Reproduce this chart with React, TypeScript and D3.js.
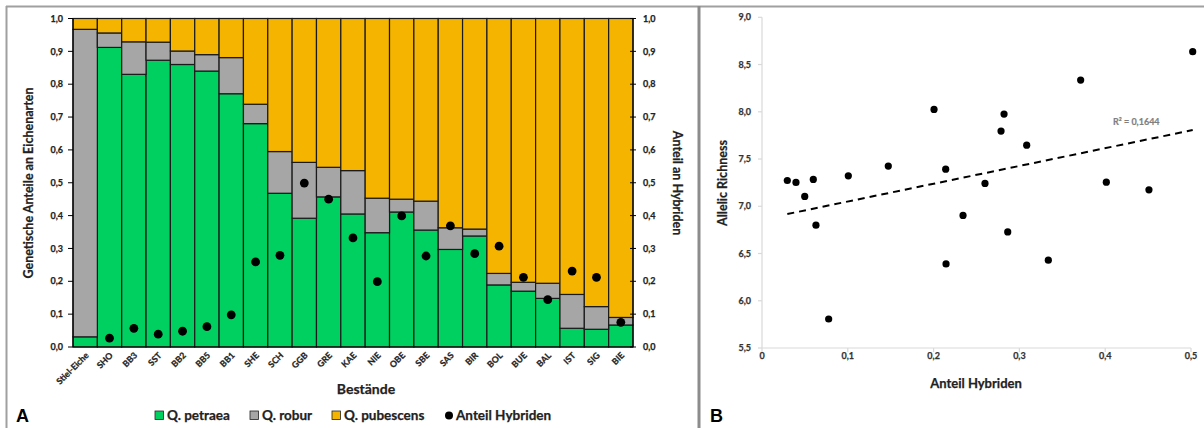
import React from "react";
import * as d3 from "d3";

const categories = ["Stiel-Eiche","SHO","BB3","SST","BB2","BB5","BB1","SHE","SCH","GGB","GRE","KAE","NIE","OBE","SBE","SAS","BIR","BOL","BUE","BAL","IST","SIG","BIE"];
const petraea = [0.031,0.912,0.830,0.873,0.860,0.840,0.771,0.680,0.468,0.392,0.457,0.405,0.348,0.411,0.356,0.297,0.338,0.189,0.170,0.148,0.057,0.054,0.067];
const robur = [0.936,0.044,0.099,0.055,0.041,0.050,0.110,0.059,0.127,0.170,0.090,0.132,0.105,0.039,0.088,0.066,0.021,0.035,0.027,0.046,0.103,0.069,0.023];
const hybrids: (number | null)[] = [null,0.027,0.057,0.039,0.048,0.062,0.098,0.259,0.279,0.499,0.450,0.332,0.199,0.399,0.277,0.369,0.284,0.307,0.212,0.144,0.231,0.212,0.075];
const leftTicks = [0,0.1,0.2,0.3,0.4,0.5,0.6,0.7,0.8,0.9,1.0];

const scatterX = [0.0295,0.0396,0.0498,0.0598,0.1006,0.1472,0.2005,0.0629,0.0777,0.2141,0.2599,0.2343,0.2786,0.2821,0.3085,0.3714,0.4013,0.4510,0.502,0.2145,0.2864,0.3337];
const scatterY = [7.273,7.252,7.104,7.284,7.322,7.425,8.025,6.80,5.807,7.393,7.242,6.903,7.796,7.976,7.647,8.336,7.255,7.174,8.636,6.39,6.729,6.429];
const xTicksB = [0,0.1,0.2,0.3,0.4,0.5];
const yTicksB = [5.5,6.0,6.5,7.0,7.5,8.0,8.5,9.0];
const r2Label = "R² = 0,1644";

const seriesNames = ["Q. petraea","Q. robur","Q. pubescens"];
const colors = ["#00D05F","#A6A6A6","#F5B400"];
const FONT = "Lato, 'Open Sans', sans-serif";
const W = 700;

const fmt1 = (v: number) => v.toFixed(1).replace(".", ",");
const fmtX = (v: number) => (v === 0 ? "0" : v.toFixed(1).replace(".", ","));

export default function App() {
  // Panel A
  const x = d3.scaleBand<string>().domain(categories).range([73, 633]).padding(0);
  const y = d3.scaleLinear().domain([0, 1]).range([347, 18.5]);
  const table = categories.map((c, i) => ({
    cat: c,
    p: petraea[i],
    r: robur[i],
    u: Math.max(0, 1 - petraea[i] - robur[i]),
  }));
  const stack = d3.stack<any>().keys(["p", "r", "u"])(table);

  // Panel B
  const xb = d3.scaleLinear().domain([0, 0.5]).range([762, 1191]);
  const yb = d3.scaleLinear().domain([5.5, 9.0]).range([348, 17.3]);
  const mx = d3.mean(scatterX)!;
  const my = d3.mean(scatterY)!;
  let sxy = 0, sxx = 0;
  scatterX.forEach((v, i) => { sxy += (v - mx) * (scatterY[i] - my); sxx += (v - mx) * (v - mx); });
  const slope = sxy / sxx;
  const icpt = my - slope * mx;
  const x0 = d3.min(scatterX)!;
  const x1 = d3.max(scatterX)!;

  const legendItems = [
    { label: seriesNames[0], color: colors[0], x: 155 },
    { label: seriesNames[1], color: colors[1], x: 250 },
    { label: seriesNames[2], color: colors[2], x: 332 },
  ];
  const heavy = { stroke: "#222", strokeWidth: 0.25 };

  return (
    <svg width={1204} height={428} style={{ position: "absolute", left: 0, top: 0, display: "block", background: "#fff" }} fontFamily={FONT}>
      <rect x={0} y={0} width={1204} height={428} fill="#fff" />
      {/* borders */}
      <line x1={6.5} y1={6} x2={6.5} y2={428} stroke="#a0a0a0" strokeWidth={2} />
      <line x1={6} y1={6.5} x2={1204} y2={6.5} stroke="#a0a0a0" strokeWidth={2} />
      <line x1={699} y1={6} x2={699} y2={428} stroke="#8c8c8c" strokeWidth={3} />

      {/* Panel A bars */}
      {stack.map((s, si) => (
        <g key={si}>
          {s.map((d, i) => (
            <rect key={i} x={x(categories[i])!} y={y(d[1])} width={x.bandwidth()} height={Math.max(0, y(d[0]) - y(d[1]))}
              fill={colors[si]} stroke="#1a1a1a" strokeWidth={1.2} />
          ))}
        </g>
      ))}
      {/* axes A */}
      <line x1={73} y1={18.5} x2={73} y2={347} stroke="#000" strokeWidth={1.2} />
      <line x1={73} y1={347} x2={633} y2={347} stroke="#000" strokeWidth={1.2} />
      <line x1={633} y1={18.5} x2={633} y2={347} stroke="#000" strokeWidth={1.2} />
      {leftTicks.map((t, i) => (
        <g key={i}>
          <line x1={68} x2={73} y1={y(t)} y2={y(t)} stroke="#000" strokeWidth={1} />
          <text x={63} y={y(t)} dy="0.35em" textAnchor="end" fontSize={9} fontWeight={W} fill="#222" {...heavy}>{fmt1(t)}</text>
          <line x1={630} x2={636} y1={y(t)} y2={y(t)} stroke="#000" strokeWidth={1} />
          <text x={643} y={y(t)} dy="0.35em" textAnchor="start" fontSize={9} fontWeight={W} fill="#222" {...heavy}>{fmt1(t)}</text>
        </g>
      ))}
      {/* hybrid dots */}
      {hybrids.map((h, i) => h == null ? null : (
        <circle key={i} cx={x(categories[i])! + x.bandwidth() / 2} cy={y(h)} r={4.4} fill="#000" />
      ))}
      {/* x labels */}
      {categories.map((c, i) => {
        const cx = x(c)! + x.bandwidth() / 2 + 4;
        const cy = 356;
        return (
          <text key={i} x={cx} y={cy} transform={`rotate(-45 ${cx} ${cy})`} textAnchor="end" fontSize={8.7} fontWeight={W} fill="#222" {...heavy}>{c}</text>
        );
      })}
      <text x={366} y={394} textAnchor="middle" fontSize={14} fontWeight={W} fill="#222" {...heavy}>Bestände</text>
      <text transform={`translate(33 183) rotate(-90)`} textAnchor="middle" fontSize={12.5} fontWeight={W} fill="#222" {...heavy}>Genetische Anteile an Eichenarten</text>
      <text transform={`translate(673 183) rotate(90)`} textAnchor="middle" fontSize={12.5} fontWeight={W} fill="#222" {...heavy}>Anteil an Hybriden</text>
      {/* legend */}
      {legendItems.map((l, i) => (
        <g key={i}>
          <rect x={l.x} y={411} width={8.5} height={8.5} fill={l.color} stroke="#222" strokeWidth={0.8} />
          <text x={l.x + 12} y={415.5} dy="0.35em" fontSize={13.5} fontWeight={W} fill="#222" {...heavy}>{l.label}</text>
        </g>
      ))}
      <circle cx={449} cy={415.5} r={4} fill="#000" />
      <text x={456} y={415.5} dy="0.35em" fontSize={13.5} fontWeight={W} fill="#222" {...heavy}>Anteil Hybriden</text>
      <text x={16} y={422} fontSize={18} fontWeight="bold" fontFamily="'Liberation Sans', Arial, sans-serif" fill="#000">A</text>

      {/* Panel B */}
      <line x1={762} y1={17.3} x2={762} y2={348} stroke="#d9d9d9" strokeWidth={1.2} />
      <line x1={762} y1={348} x2={1191} y2={348} stroke="#d9d9d9" strokeWidth={1.2} />
      {yTicksB.map((t, i) => (
        <g key={i}>
          <line x1={758} x2={762} y1={yb(t)} y2={yb(t)} stroke="#d9d9d9" strokeWidth={1.2} />
          <text x={751} y={yb(t)} dy="0.35em" textAnchor="end" fontSize={9} fontWeight={W} fill="#333" stroke="#333" strokeWidth={0.25}>{fmt1(t)}</text>
        </g>
      ))}
      {xTicksB.map((t, i) => (
        <g key={i}>
          <line x1={xb(t)} x2={xb(t)} y1={348} y2={352} stroke="#d9d9d9" strokeWidth={1.2} />
          <text x={xb(t)} y={356} dy="0.35em" textAnchor="middle" fontSize={9} fontWeight={W} fill="#333" stroke="#333" strokeWidth={0.25}>{fmtX(t)}</text>
        </g>
      ))}
      <line x1={xb(x0)} y1={yb(icpt + slope * x0)} x2={xb(x1)} y2={yb(icpt + slope * x1)} stroke="#000" strokeWidth={2} strokeDasharray="7,5" />
      {scatterX.map((v, i) => (
        <circle key={i} cx={xb(v)} cy={yb(scatterY[i])} r={3.6} fill="#000" />
      ))}
      <text x={1113} y={122} dy="0.35em" fontSize={9} fontWeight={W} fill="#7f7f7f" stroke="#7f7f7f" strokeWidth={0.2}>{r2Label}</text>
      <text transform={`translate(727 183) rotate(-90)`} textAnchor="middle" fontSize={12.5} fontWeight={W} fill="#222" {...heavy}>Allelic Richness</text>
      <text x={976} y={388} textAnchor="middle" fontSize={13} fontWeight={W} fill="#222" {...heavy}>Anteil Hybriden</text>
      <text x={710} y={422} fontSize={18} fontWeight="bold" fontFamily="'Liberation Sans', Arial, sans-serif" fill="#000">B</text>
    </svg>
  );
}
